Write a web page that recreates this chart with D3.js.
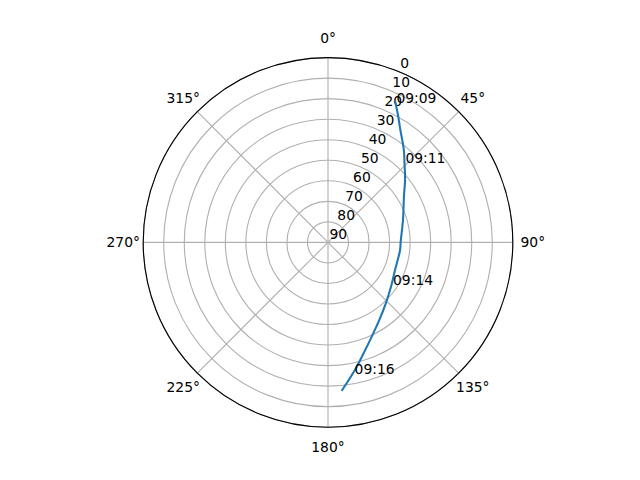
<!DOCTYPE html>
<html>
<head>
<meta charset="utf-8">
<script src="https://cdn.jsdelivr.net/npm/d3@7"></script>
<style>
  body { margin: 0; background: #fff; }
  svg { display: block; font-family: "DejaVu Sans", sans-serif; }
</style>
</head>
<body>
<svg id="chart"></svg>
<script>
// pass track (azimuth deg, elevation deg)
const azimuth = [25.7, 29.3, 32.3, 39.4, 43.6, 51.0, 58.1, 73.4, 89.4, 96.0,
                 112.4, 125.1, 136.5, 146.5, 155.1, 162.2, 168.1, 174.5];
const elevation = [14.3, 20.0, 24.3, 31.8, 36.0, 41.7, 46.4, 51.9, 54.6, 54.7,
                   54.7, 52.5, 49.1, 44.7, 39.4, 33.3, 26.5, 17.8];

// time stamps shown along the track
const labelTimes = ["09:09", "09:11", "09:14", "09:16"];
const labelAz = [25.7, 43.6, 123.0, 168.9];
const labelEl = [14.3, 36.0, 52.8, 25.3];

const thetaTicks = [0, 45, 90, 135, 180, 225, 270, 315];
const rTicks = [0, 10, 20, 30, 40, 50, 60, 70, 80, 90];

const width = 640, height = 480;
const cx = 328, cy = 242.4, R = 184.8;
const fontSize = 13.89;

const svg = d3.select("#chart")
  .attr("width", width)
  .attr("height", height);

svg.append("rect")
  .attr("width", width)
  .attr("height", height)
  .attr("fill", "#fff");

const r = d3.scaleLinear().domain([90, 0]).range([0, R]);
const theta = d3.scaleLinear().domain([0, 360]).range([0, 2 * Math.PI]);

// screen position for (azimuth, elevation): north up, clockwise
const px = (az, el) => r(el) * Math.sin(theta(az));
const py = (az, el) => -r(el) * Math.cos(theta(az));

const g = svg.append("g").attr("transform", `translate(${cx},${cy})`);

// radial grid circles
g.append("g")
  .selectAll("circle")
  .data(rTicks.filter(d => d !== 90))
  .join("circle")
  .attr("r", d => r(d))
  .attr("fill", "none")
  .attr("stroke", "#b0b0b0")
  .attr("stroke-width", 1.11);

// angular grid spokes
g.append("g")
  .selectAll("line")
  .data(thetaTicks)
  .join("line")
  .attr("x1", 0)
  .attr("y1", 0)
  .attr("x2", d => px(d, 0))
  .attr("y2", d => py(d, 0))
  .attr("stroke", "#b0b0b0")
  .attr("stroke-width", 1.11);

// outer spine
g.append("circle")
  .attr("r", R)
  .attr("fill", "none")
  .attr("stroke", "#000")
  .attr("stroke-width", 1.11);

// angle labels
g.append("g")
  .attr("font-size", fontSize)
  .attr("text-anchor", "middle")
  .selectAll("text")
  .data(thetaTicks)
  .join("text")
  .attr("x", d => (R + 20) * Math.sin(theta(d)))
  .attr("y", d => -(R + 20) * Math.cos(theta(d)))
  .attr("dy", "0.36em")
  .text(d => d + "°");

// radial labels along 22.5°
g.append("g")
  .attr("font-size", fontSize)
  .attr("text-anchor", "start")
  .selectAll("text")
  .data(rTicks)
  .join("text")
  .attr("x", d => px(22.5, d) + 1.5)
  .attr("y", d => py(22.5, d) - 3.5)
  .text(d => d);

// pass track
const track = d3.lineRadial()
  .angle(i => theta(azimuth[i]))
  .radius(i => r(elevation[i]))
  .curve(d3.curveCatmullRom);

g.append("path")
  .attr("d", track(d3.range(azimuth.length)))
  .attr("fill", "none")
  .attr("stroke", "#1f77b4")
  .attr("stroke-width", 2.08)
  .attr("stroke-linecap", "square");

// time labels
g.append("g")
  .attr("font-size", fontSize)
  .selectAll("text")
  .data(labelTimes)
  .join("text")
  .attr("x", (d, i) => px(labelAz[i], labelEl[i]) + 1)
  .attr("y", (d, i) => py(labelAz[i], labelEl[i]) + 1)
  .text(d => d);
</script>
</body>
</html>
